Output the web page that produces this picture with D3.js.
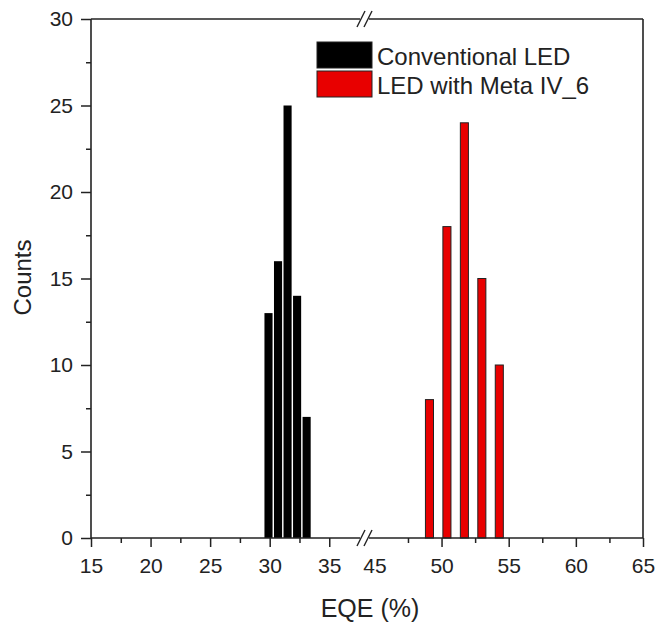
<!DOCTYPE html>
<html>
<head>
<meta charset="utf-8">
<script src="https://d3js.org/d3.v7.min.js"></script>
<style>
  body { margin: 0; background: #fff; }
  text { font-family: "Liberation Sans", Arial, sans-serif; fill: #222; }
</style>
</head>
<body>
<svg id="chart" width="661" height="626"></svg>
<script>
  // data
  let convBins = [29.9, 30.7, 31.5, 32.3, 33.1];
  let convCounts = [13, 16, 25, 14, 7];
  let metaBins = [49.1, 50.4, 51.7, 53.0, 54.3];
  let metaCounts = [8, 18, 24, 15, 10];
  let leftTicks = [15, 20, 25, 30, 35];
  let rightTicks = [45, 50, 55, 60, 65];
  let yTicks = [0, 5, 10, 15, 20, 25, 30];
  let legendNames = ["Conventional LED", "LED with Meta IV_6"];

  let svg = d3.select("#chart");
  let plotL = 91, plotR = 643, plotT = 19, plotB = 538;
  let breakX = 365;

  // broken x axis: two scales
  let xL = d3.scaleLinear().domain([15, 38]).range([plotL, breakX]);
  let xR = d3.scaleLinear().domain([44.3, 65]).range([breakX, plotR]);
  let y = d3.scaleLinear().domain([0, 30]).range([plotB, plotT]);

  // bars
  svg.selectAll(".conv").data(convBins).enter()
    .append("rect")
    .attr("x", (d) => xL(d - 0.34))
    .attr("y", (d, i) => y(convCounts[i]))
    .attr("width", xL(0.68) - xL(0))
    .attr("height", (d, i) => plotB - y(convCounts[i]))
    .attr("fill", "#000");

  svg.selectAll(".meta").data(metaBins).enter()
    .append("rect")
    .attr("x", (d) => xR(d - 0.3))
    .attr("y", (d, i) => y(metaCounts[i]))
    .attr("width", xR(0.6) - xR(0))
    .attr("height", (d, i) => plotB - y(metaCounts[i]))
    .attr("fill", "#e80000")
    .attr("stroke", "#222")
    .attr("stroke-width", 1);

  // ticks
  function xAxis(scale, values, size, labels) {
    let ax = d3.axisBottom(scale).tickValues(values).tickSize(size).tickSizeOuter(0).tickPadding(11);
    if (!labels) ax.tickFormat("");
    let g = svg.append("g").attr("transform", "translate(0," + plotB + ")").call(ax);
    g.select(".domain").remove();
    g.selectAll("line").attr("stroke", "#222").attr("stroke-width", 1.5);
    g.selectAll("text").style("font-size", "21px").attr("fill", "#222");
    return g;
  }
  xAxis(xL, leftTicks, 9, true);
  xAxis(xL, [17.5, 22.5, 27.5, 32.5], 5, false);
  let g45 = xAxis(xR, rightTicks, 9, true);
  g45.selectAll(".tick").filter((d) => d == 45).select("line").remove();
  xAxis(xR, [47.5, 52.5, 57.5, 62.5], 5, false);

  let yAx = svg.append("g").attr("transform", "translate(" + plotL + ",0)")
    .call(d3.axisLeft(y).tickValues(yTicks).tickSize(10).tickPadding(8));
  yAx.select(".domain").remove();
  yAx.selectAll("line").attr("stroke", "#222").attr("stroke-width", 1.5);
  yAx.selectAll("text").style("font-size", "21px").attr("fill", "#222");
  let yMin = svg.append("g").attr("transform", "translate(" + plotL + ",0)")
    .call(d3.axisLeft(y).tickValues([2.5, 7.5, 12.5, 17.5, 22.5, 27.5]).tickSize(5).tickFormat(""));
  yMin.select(".domain").remove();
  yMin.selectAll("line").attr("stroke", "#222").attr("stroke-width", 1.5);

  // frame with breaks
  let frame = svg.append("g").attr("stroke", "#222").attr("stroke-width", 1.6).attr("fill", "none");
  let gapA = breakX - 5, gapB = breakX + 4;
  [plotT, plotB].forEach((yy) => {
    frame.append("line").attr("x1", plotL).attr("x2", gapA).attr("y1", yy).attr("y2", yy);
    frame.append("line").attr("x1", gapB).attr("x2", plotR).attr("y1", yy).attr("y2", yy);
    [-4, 3].forEach((o) => {
      frame.append("line")
        .attr("x1", breakX + o - 4).attr("y1", yy + 8)
        .attr("x2", breakX + o + 4).attr("y2", yy - 8)
        .attr("stroke-width", 1.4);
    });
  });
  frame.append("line").attr("x1", plotL).attr("x2", plotL).attr("y1", plotT).attr("y2", plotB);
  frame.append("line").attr("x1", plotR).attr("x2", plotR).attr("y1", plotT).attr("y2", plotB);

  // axis titles
  svg.append("text")
    .attr("x", (plotL + plotR) / 2 + 3)
    .attr("y", 617)
    .attr("text-anchor", "middle")
    .style("font-size", "25px")
    .text("EQE (%)");
  svg.append("text")
    .attr("transform", "translate(31," + (y(15) - 1) + ") rotate(-90)")
    .attr("text-anchor", "middle")
    .style("font-size", "24px")
    .text("Counts");

  // legend
  let legColors = ["#000", "#e80000"];
  let leg = svg.append("g").attr("transform", "translate(317,42)");
  legendNames.forEach((name, i) => {
    leg.append("rect")
      .attr("x", 0).attr("y", i * 29)
      .attr("width", 55).attr("height", 26)
      .attr("fill", legColors[i])
      .attr("stroke", "#222").attr("stroke-width", 1);
    leg.append("text")
      .attr("x", 60).attr("y", i * 29 + 23)
      .style("font-size", "24px")
      .text(name);
  });
</script>
</body>
</html>
